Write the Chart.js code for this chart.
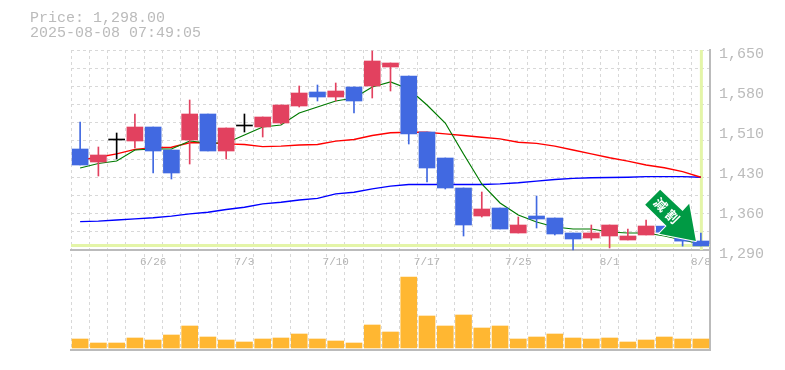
<!DOCTYPE html>
<html>
<head>
<meta charset="utf-8">
<style>
  html, body { margin: 0; padding: 0; background: #fff; }
  #wrap { position: relative; width: 785px; height: 370px; overflow: hidden; }
  #priceInfo {
    position: absolute; left: 30px; top: 11px;
    font: 15px/15px "Liberation Mono", monospace; color: #bbb; white-space: pre;
  }
</style>
<script src="https://cdn.jsdelivr.net/npm/chart.js@4"></script>
</head>
<body>
<div id="wrap">
  <div id="priceInfo">Price: 1,298.00
2025-08-08 07:49:05</div>
  <canvas id="chart" width="785" height="370"></canvas>
</div>
<script>
// dates, only every 5th one gets a label
const dates = ['6/20','6/23','6/24','6/25','6/26','6/27','6/30','7/1','7/2','7/3','7/4','7/7','7/8','7/9','7/10','7/11','7/14','7/15','7/16','7/17','7/18','7/22','7/23','7/24','7/25','7/28','7/29','7/30','7/31','8/1','8/4','8/5','8/6','8/7','8/8'];
const dateLabels = ['6/26','7/3','7/10','7/17','7/25','8/1','8/8'];

const opens  = [1471.8,1448.4,1488,1486.2,1511.4,1470,1488,1534.8,1468.2,1513.2,1511.4,1518.6,1549.2,1574.4,1565.4,1583.4,1585.2,1619.4,1603.2,1502.4,1455.6,1401.6,1351.2,1365.6,1320.6,1351.2,1347.6,1320.6,1311.6,1315.2,1308,1317,1333,1322,1306.2];
const closes = [1443,1461,1489.8,1511.4,1468.2,1428.6,1534.8,1468.2,1509.6,1515,1529.4,1551,1572.6,1565.4,1576.2,1558.2,1630.2,1626.6,1498.8,1437.6,1401.6,1335,1363.8,1327.8,1335,1345.8,1318.8,1309.8,1320.6,1335,1315.2,1333.2,1322,1306,1297.2];
const highs  = [1520.4,1475.4,1500.6,1534.8,1511.4,1470,1560,1534.8,1509.6,1534.8,1529.4,1551,1585.2,1587,1590.6,1583.4,1648.2,1626.6,1603.2,1502.4,1455.6,1401.6,1394.4,1365.6,1349.4,1387.2,1347.6,1320.6,1335,1335,1327.8,1344,1333,1322,1320.6];
const lows   = [1443,1423.2,1453.8,1473.6,1428.6,1417.8,1444.8,1468.2,1453.8,1502.4,1493.4,1516.8,1547.4,1558.2,1558.2,1536.6,1563.6,1576.2,1480.8,1412.4,1399.8,1315.2,1349.4,1327.8,1320.6,1329.6,1317,1290,1308,1293.6,1308,1317,1322,1297,1297.2];

const maShort = [1437.6,1445.7,1450.2,1470,1471.8,1471.8,1486.2,1482.6,1482.6,1497,1511.4,1515,1536.6,1547.4,1558.2,1563.6,1583.4,1592.4,1579.8,1551,1518.6,1462.8,1408.8,1374.6,1353,1340.4,1331.4,1327.8,1327.8,1322.4,1320.6,1320.6,1315.2,1308,1300.8];
const maMid   = [1452,1457,1463,1471,1474,1475,1483,1483,1481,1480,1476,1477,1479,1480,1486,1489,1496,1501,1502,1502,1499,1496,1493,1490,1484,1482,1477,1470,1463,1456,1450,1443,1438,1431,1421];
const maLong  = [1341,1342,1344,1346,1348,1351,1355,1358,1363,1367,1373,1376,1380,1383,1391,1394,1400,1405,1408,1408,1408,1408,1408,1409,1411,1414,1417,1419,1420,1420.5,1421,1422,1422,1422,1421];

const volumes = [9,5,5,10,8,13,22,11,8,6,9,10,14,9,7,5,23,16,71,32,22,33,20,22,9,11,14,10,9,10,6,8,11,9,9];

const priceTicks = [1650,1578,1506,1434,1362,1290];
const gridTicks = [1650,1617.3,1584.5,1551.8,1519.1,1486.4,1453.6,1420.9,1388.2,1355.5,1322.7];
const lastPrice = 1298;
const badgeText = ['減', '割'];

const RED = '#e2415f', BLUE = '#4169e1', BLACK = '#000';
const candleColor = opens.map((o, i) => Math.abs(o - closes[i]) < 2 ? BLACK : (closes[i] > o ? RED : BLUE));

// price lives in the upper 2/3 of the plot, volume in the lower part
const PRICE_MIN = 1110, PRICE_MAX = 1650;

const currentPriceLines = {
    id: 'currentPriceLines',
    beforeDatasetsDraw(chart) {
        const { ctx, chartArea } = chart;
        const y = chart.scales.y.getPixelForValue(lastPrice);
        const x = chart.scales.x.getPixelForValue(dates.length - 1) + 0.5;
        const floor = chart.scales.y.getPixelForValue(1290);
        ctx.save();
        ctx.strokeStyle = '#e4f5a8';
        ctx.lineWidth = 3;
        ctx.beginPath();
        ctx.moveTo(chartArea.left, y);
        ctx.lineTo(chartArea.right, y);
        ctx.moveTo(x, chartArea.top);
        ctx.lineTo(x, floor);
        ctx.stroke();
        ctx.restore();
    }
};

const arrowBadge = {
    id: 'arrowBadge',
    afterDatasetsDraw(chart) {
        const { ctx } = chart;
        const tipX = chart.scales.x.getPixelForValue(dates.length - 1) - 5;
        const tipY = chart.scales.y.getPixelForValue(lastPrice) - 4.5;
        const pts = [[0,0],[-6.7,-37.4],[-13.3,-30],[-35.7,-51.4],[-50.7,-36.4],[-29.3,-15],[-36.7,-7.4]];
        ctx.save();
        ctx.translate(tipX, tipY);
        ctx.beginPath();
        pts.forEach((p, i) => i ? ctx.lineTo(p[0], p[1]) : ctx.moveTo(p[0], p[1]));
        ctx.closePath();
        ctx.lineJoin = 'round';
        ctx.strokeStyle = '#fff';
        ctx.lineWidth = 2;
        ctx.stroke();
        ctx.fillStyle = '#009a44';
        ctx.fill();
        ctx.fillStyle = '#fff';
        ctx.font = 'bold 13px "Noto Sans CJK JP"';
        ctx.textAlign = 'center';
        ctx.textBaseline = 'middle';
        ctx.translate(-29, -30);
        ctx.rotate(Math.PI / 4);
        ctx.fillText(badgeText[0], -9, 0);
        ctx.fillText(badgeText[1], 8, 0);
        ctx.restore();
    }
};

new Chart(document.getElementById('chart'), {
    data: {
        labels: dates,
        datasets: [
            { type: 'line', label: 'MA long', data: maLong, yAxisID: 'y', borderColor: '#0000ff', borderWidth: 1.4, pointRadius: 0, order: 5 },
            { type: 'line', label: 'MA mid', data: maMid, yAxisID: 'y', borderColor: '#ff0000', borderWidth: 1.4, pointRadius: 0, order: 4 },
            { type: 'line', label: 'MA short', data: maShort, yAxisID: 'y', borderColor: '#007a00', borderWidth: 1.2, pointRadius: 0, order: 3 },
            { type: 'bar', label: 'wick', data: dates.map((d, i) => [lows[i], highs[i]]), yAxisID: 'y', backgroundColor: candleColor, barThickness: 1, grouped: false, order: 2 },
            { type: 'bar', label: 'body', data: dates.map((d, i) => [opens[i], closes[i]]), yAxisID: 'y', backgroundColor: candleColor, barThickness: 16, grouped: false, order: 1 },
            { type: 'bar', label: 'volume', data: volumes, yAxisID: 'yVol', backgroundColor: '#ffb732', barThickness: 16, grouped: false, order: 6 }
        ]
    },
    options: {
        responsive: false,
        animation: false,
        layout: { padding: { left: 71, top: 50, right: 0, bottom: 12 } },
        plugins: { legend: { display: false }, tooltip: { enabled: false } },
        scales: {
            x: {
                type: 'category',
                offset: true,
                position: { y: 1290 },
                grid: { color: '#d8d8d8', drawTicks: false },
                border: { color: '#bbb', width: 2, dash: [3, 3] },
                ticks: {
                    autoSkip: false, maxRotation: 0, padding: 5, color: '#b4b4b4',
                    font: { family: '"Liberation Mono", monospace', size: 11 },
                    callback(v) {
                        const d = dates[v];
                        return dateLabels.includes(d) ? d : '';
                    }
                }
            },
            xBase: {
                type: 'category',
                position: 'bottom',
                offset: true,
                grid: { display: false },
                border: { color: '#bbb', width: 2 },
                ticks: { display: false }
            },
            y: {
                position: 'right',
                min: PRICE_MIN,
                max: PRICE_MAX,
                afterBuildTicks(s) { s.ticks = priceTicks.map(v => ({ value: v })); },
                afterFit(s) { s.width = 75; },
                grid: { display: false },
                border: { color: '#bbb', width: 2 },
                ticks: {
                    padding: 1, color: '#bbb', autoSkip: false, labelOffset: 4,
                    font: { family: '"Liberation Mono", monospace', size: 15 },
                    // labels are rounded to the nearest ten
                    callback(v) { return (Math.round(v / 10) * 10).toLocaleString('en-US'); }
                }
            },
            yGrid: {
                position: 'left',
                min: PRICE_MIN,
                max: PRICE_MAX,
                afterBuildTicks(s) { s.ticks = gridTicks.map(v => ({ value: v })); },
                afterFit(s) { s.width = 0; },
                grid: { color: '#d8d8d8', drawTicks: false },
                border: { display: false, dash: [3, 3] },
                ticks: { display: false }
            },
            yVol: {
                display: false,
                min: -2,
                max: 298
            }
        }
    },
    plugins: [currentPriceLines, arrowBadge]
});
</script>
</body>
</html>
